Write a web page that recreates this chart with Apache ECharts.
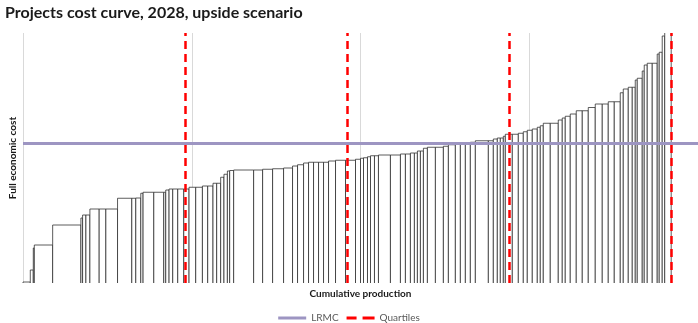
<!DOCTYPE html>
<html>
<head>
<meta charset="utf-8">
<script src="https://cdn.jsdelivr.net/npm/echarts@6/dist/echarts.min.js"></script>
<style>
html,body{margin:0;padding:0;background:#fff;}
#chart{width:698px;height:323px;}
</style>
</head>
<body>
<div id="chart"></div>
<script>
// Production of each project (width of each bar), in cost-curve order
var production = [0.216,0.089,0.030,0.544,0.837,0.050,0.098,0.118,0.275,0.198,
  0.346,0.423,0.118,0.148,0.068,0.317,0.296,0.059,0.098,0.109,
  0.148,0.178,0.157,0.198,0.198,0.157,0.157,0.109,0.118,0.098,
  0.101,0.068,0.118,0.592,0.266,0.296,0.325,0.266,0.148,0.178,
  0.148,0.148,0.148,0.148,0.148,0.207,0.296,0.296,0.148,0.089,
  0.118,0.089,0.118,0.118,0.355,0.296,0.148,0.148,0.118,0.089,
  0.089,0.089,0.118,0.237,0.237,0.148,0.207,0.148,0.148,0.148,
  0.148,0.385,0.148,0.118,0.089,0.089,0.059,0.207,0.178,0.148,
  0.118,0.148,0.148,0.089,0.089,0.207,0.237,0.118,0.089,0.148,
  0.178,0.178,0.178,0.207,0.207,0.178,0.178,0.178,0.089,0.148,
  0.118,0.089,0.059,0.148,0.059,0.089,0.148,0.148,0.059,0.089,
  0.074,0.192];
// Full economic cost of each project
var cost = [0.4,5.2,14,15.2,23.2,26,27.2,27.2,29.6,29.6,
  29.6,33.9,33.9,34,35.9,36.3,36.3,36.3,37.2,37.6,
  37.6,37.6,37.6,38.3,38.3,38.8,38.8,39.9,39.9,42.3,
  43.5,44.8,45.0,45.2,45.2,45.5,45.7,46,46.8,47.3,
  48,48.3,48.3,48.3,48.3,48.8,49.1,49.1,49.5,49.9,
  50.1,50.5,50.9,50.9,51.2,51.2,51.6,51.6,52,52,
  52.8,52.8,53.9,54.3,54.3,54.7,55.3,55.7,55.7,56.1,
  56.3,56.9,56.9,57.6,58,58,58.7,59.5,59.5,59.9,
  60.5,61.1,61.6,62.3,62.9,63.9,63.9,65.2,66,66.7,
  67.6,68.9,68.9,70.2,71.6,71.6,72.5,72.5,76.1,77.6,
  78.3,78.3,81.2,81.9,84.8,87.2,87.9,87.9,91.6,92.3,
  98.8,130];
var lrmc = [56];
var quartiles = [4.8, 9.6, 14.4, 19.2];

var barData = [];
var acc = 0;
for (var i = 0; i < production.length; i++) {
  barData.push([acc, acc + production[i], cost[i]]);
  acc += production[i];
}

var chart = echarts.init(document.getElementById('chart'), null, {renderer: 'canvas'});
var option = {
  animation: false,
  title: {
    text: 'Projects cost curve, 2028, upside scenario',
    left: 0, top: 0,
    textStyle: {fontFamily: 'Lato', fontWeight: 'bold', fontSize: 16, color: '#1a1a1a'}
  },
  grid: {left: 22, right: 0, top: 33, bottom: 40},
  xAxis: {
    type: 'value', min: 0, max: 20, interval: 5,
    name: 'Cumulative production', nameLocation: 'middle', nameGap: 6,
    nameTextStyle: {fontFamily: 'Lato', fontWeight: 'bold', fontSize: 10, color: '#1a1a1a'},
    axisLine: {show: false}, axisTick: {show: false}, axisLabel: {show: false},
    splitLine: {show: true, lineStyle: {color: '#d9d9d9', width: 1}}
  },
  yAxis: {
    type: 'value', min: 0, max: 100,
    name: 'Full economic cost', nameLocation: 'middle', nameGap: 5,
    nameTextStyle: {fontFamily: 'Lato', fontWeight: 'bold', fontSize: 10, color: '#1a1a1a'},
    axisLine: {show: false}, axisTick: {show: false}, axisLabel: {show: false},
    splitLine: {show: false}
  },
  legend: {
    top: 313, left: 'center', itemWidth: 28, itemHeight: 3, itemGap: 8, padding: 0,
    textStyle: {fontFamily: 'Lato', fontSize: 10, color: '#595959'},
    data: [
      {name: 'LRMC', icon: 'path://M0,0L28,0L28,3L0,3Z', itemStyle: {color: '#9d95c2'}},
      {name: 'Quartiles', icon: 'path://M0,0L10,0L10,3L0,3Z M16,0L28,0L28,3L16,3Z', itemStyle: {color: '#ff0000'}}
    ]
  },
  series: [
    {
      type: 'custom', name: 'Projects', clip: true, silent: true,
      data: barData,
      renderItem: function (params, api) {
        var p0 = api.coord([api.value(0), 0]);
        var p1 = api.coord([api.value(1), api.value(2)]);
        return {
          type: 'group',
          children: [
            {type: 'rect', shape: {x: p0[0], y: p1[1], width: p1[0] - p0[0], height: p0[1] - p1[1]},
             style: {fill: '#ffffff'}},
            {type: 'polyline', shape: {points: [[p0[0], p0[1]], [p0[0], p1[1]], [p1[0], p1[1]], [p1[0], p0[1]]]},
             style: {fill: null, stroke: '#262626', lineWidth: 0.75}}
          ]
        };
      },
      encode: {x: [0, 1], y: 2},
      z: 2
    },
    {
      type: 'line', name: 'LRMC', data: [], symbol: 'none',
      lineStyle: {color: '#9d95c2', width: 3},
      itemStyle: {color: '#9d95c2'},
      markLine: {
        silent: true, symbol: 'none', label: {show: false},
        lineStyle: {color: '#9d95c2', width: 3, type: 'solid'},
        data: lrmc.map(function (v) { return {yAxis: v}; })
      },
      z: 3
    },
    {
      type: 'line', name: 'Quartiles', data: [], symbol: 'none',
      lineStyle: {color: '#ff0000', width: 2.5, type: [8, 5]},
      itemStyle: {color: '#ff0000'},
      markLine: {
        silent: true, symbol: 'none', label: {show: false},
        lineStyle: {color: '#ff0000', width: 2.5, type: [8, 5]},
        data: quartiles.map(function (v) { return {xAxis: v}; })
      },
      z: 4
    }
  ]
};
chart.setOption(option);
</script>
</body>
</html>
